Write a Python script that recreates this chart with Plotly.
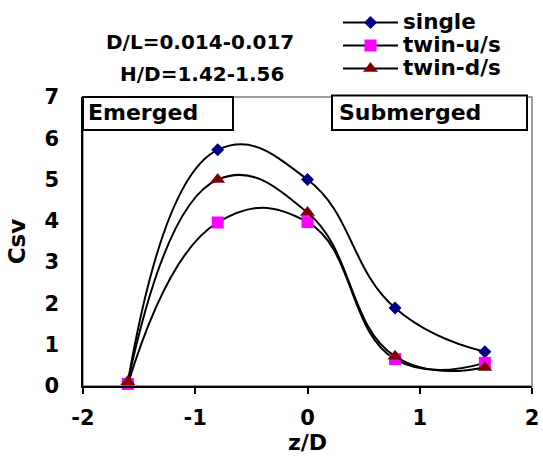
import plotly.graph_objects as go

# data
z_single = [-1.6, -0.8, 0.0, 0.78, 1.58]
csv_single = [0.1, 5.72, 5.0, 1.89, 0.83]
z_twin_us = [-1.6, -0.8, 0.0, 0.78, 1.58]
csv_twin_us = [0.05, 3.96, 3.97, 0.65, 0.56]
z_twin_ds = [-1.6, -0.8, 0.0, 0.78, 1.58]
csv_twin_ds = [0.1, 5.0, 4.2, 0.72, 0.45]

series_names = ["single", "twin-u/s", "twin-d/s"]
x_ticks = [-2, -1, 0, 1, 2]
y_ticks = [0, 1, 2, 3, 4, 5, 6, 7]

FONT = "DejaVu Sans"

fig = go.Figure()
series = [
    (series_names[0], z_single, csv_single, "diamond", "#000080", 10),
    (series_names[1], z_twin_us, csv_twin_us, "square", "#FF00FF", 12),
    (series_names[2], z_twin_ds, csv_twin_ds, "triangle-up", "#800000", 13),
]
for name, xs, ys, sym, col, sz in series:
    fig.add_trace(go.Scatter(
        x=xs, y=ys, name='<span style="font-size:21.5px">%s</span>' % name,
        mode="lines+markers",
        line=dict(color="black", width=2, shape="spline", smoothing=1.3),
        marker=dict(symbol=sym, color=col, size=sz, line=dict(width=0)),
        cliponaxis=False,
    ))

W, H = 543, 458
L, R, T, B = 83, 11, 97, 72
PW, PH = W - L - R, H - T - B


def px(x):
    return (x - L) / PW


def py(y):
    return (H - B - y) / PH


fig.update_layout(
    width=W, height=H, autosize=False,
    margin=dict(l=L, r=R, t=T, b=B, autoexpand=False),
    paper_bgcolor="white", plot_bgcolor="white",
    font=dict(family=FONT, size=21, color="black", weight="bold"),
    showlegend=True,
    legend=dict(
        x=px(338), y=py(6),
        xanchor="left", yanchor="top",
        font=dict(family=FONT, size=15.4, weight="bold"),
        itemwidth=55, bgcolor="rgba(0,0,0,0)", tracegroupgap=0,
    ),
    xaxis=dict(
        range=[-2, 2], tickvals=x_ticks, ticktext=[str(v) for v in x_ticks],
        showline=True, linecolor="black", linewidth=2,
        ticks="outside", ticklen=6, tickwidth=1.5, tickcolor="black",
        ticklabelstandoff=6,
        showgrid=False, zeroline=False,
        tickfont=dict(family=FONT, size=21, weight="bold"),
        title=dict(text="z/D", font=dict(family=FONT, size=22, weight="bold"), standoff=4),
    ),
    yaxis=dict(
        range=[0, 7], tickvals=y_ticks, ticktext=[str(v) for v in y_ticks],
        showline=True, linecolor="black", linewidth=1.5,
        ticks="", ticklabelstandoff=18,
        showgrid=False, zeroline=False,
        tickfont=dict(family=FONT, size=21, weight="bold"),
        title=dict(text="Csv", font=dict(family=FONT, size=23, weight="bold"), standoff=12),
    ),
    yaxis2=dict(
        range=[0, 7], tickvals=y_ticks, overlaying="y", anchor="free", position=0.502,
        side="left", showline=True, linecolor="black", linewidth=1.5,
        ticks="outside", ticklen=7, tickwidth=1, tickcolor="#555555",
        showticklabels=False, showgrid=False, zeroline=False,
    ),
)

# plot-area border (gray), boxes
fig.add_shape(type="rect", xref="paper", yref="paper", x0=0, x1=1, y0=0, y1=1,
              line=dict(color="#808080", width=1.5), layer="below")
fig.add_shape(type="rect", xref="paper", yref="paper", x0=0, x1=px(233), y0=py(130), y1=1.0,
              line=dict(color="black", width=2), fillcolor="white", layer="above")
fig.add_shape(type="rect", xref="paper", yref="paper", x0=px(332), x1=px(527), y0=py(130), y1=py(95.5),
              line=dict(color="black", width=2), fillcolor="white", layer="above")

fig.add_annotation(text="Emerged", xref="paper", yref="paper", x=px(86), y=py(113),
                   xanchor="left", yanchor="middle", showarrow=False,
                   font=dict(family=FONT, size=22, weight="bold"))
fig.add_annotation(text="Submerged", xref="paper", yref="paper", x=px(337), y=py(112),
                   xanchor="left", yanchor="middle", showarrow=False,
                   font=dict(family=FONT, size=22, weight="bold"))
fig.add_annotation(text="D/L=0.014-0.017", xref="paper", yref="paper",
                   x=px(200), y=py(41.5), xanchor="center", yanchor="middle", showarrow=False,
                   font=dict(family=FONT, size=20, weight="bold"))
fig.add_annotation(text="H/D=1.42-1.56", xref="paper", yref="paper",
                   x=px(202), y=py(74), xanchor="center", yanchor="middle", showarrow=False,
                   font=dict(family=FONT, size=20, weight="bold"))

fig.write_html("out.html", config={"displayModeBar": False},
               post_script="document.body.style.margin='0';document.body.style.overflow='hidden';")
